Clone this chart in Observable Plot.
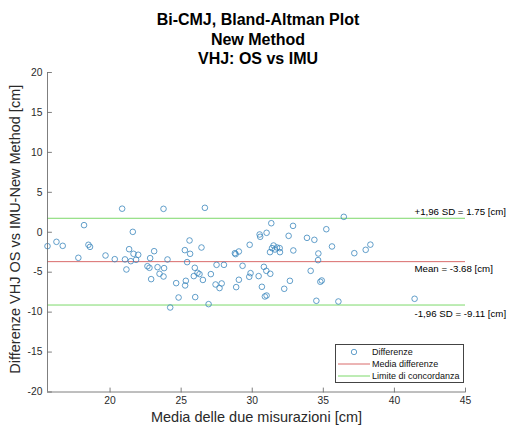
<!DOCTYPE html>
<html>
<head>
<meta charset="utf-8">
<script src="https://cdn.jsdelivr.net/npm/d3@7"></script>
<script src="https://cdn.jsdelivr.net/npm/@observablehq/plot@0.6"></script>
<style>
  body { margin: 0; background: #fff; font-family: "Liberation Sans", Arial, Helvetica, sans-serif; }
  #wrap { position: relative; width: 508px; height: 428px; overflow: hidden; }
  #title { box-sizing: border-box; height: 66px; padding-top: 10px; padding-left: 8px; text-align: center;
           font-weight: bold; font-size: 16px; line-height: 19.5px; color: #000; }
  #legend { position: absolute; left: 335px; top: 344px; width: 129px; height: 39px; box-sizing: border-box;
            border: 1px solid #444; background: #fff; font-size: 9px; color: #111; padding-top: 1px; }
  .row { position: relative; height: 12px; line-height: 12px; }
  .row svg { position: absolute; left: 1px; top: 0; }
  .row span { position: absolute; left: 36px; top: 0; white-space: nowrap; }
</style>
</head>
<body>
<div id="wrap">
  <div id="title"></div>
  <div id="chart"></div>
  <div id="legend"></div>
</div>
<script>
// ---- data ----
const titleLines = ["Bi-CMJ, Bland-Altman Plot", "New Method", "VHJ: OS vs IMU"];
const xLabel = "Media delle due misurazioni [cm]";
const yLabel = "Differenze VHJ OS vs IMU-New Method [cm]";
const xDomain = [15.6, 45];
const yDomain = [-20, 20];
const xTicks = [20, 25, 30, 35, 40, 45];
const yTicks = [-20, -15, -10, -5, 0, 5, 10, 15, 20];

const meanX = [
  15.6, 16.23, 16.67, 18.17, 17.77, 18.48, 18.59, 19.68, 20.33, 20.85,
  21.05, 21.15, 23.76, 26.67, 21.6, 21.34, 21.65, 21.98, 21.46, 21.83,
  23.1, 22.82, 24.04, 22.63, 22.77, 23.34, 23.8, 23.48, 23.76, 22.89,
  24.65, 25.28, 25.33, 24.82, 25.99, 24.23, 25.59, 25.26, 25.63, 26.43,
  25.42, 25.96, 26.15, 26.29, 25.89, 26.53, 31.34, 30.52, 30.56, 31.01,
  29.82, 29.06, 28.78, 28.83, 31.5, 31.39, 31.74, 31.93, 31.25, 31.95,
  31.6, 27.49, 28.01, 29.32, 30.82, 30.99, 31.27, 27.09, 29.88, 29.79,
  29.06, 30.45, 27.42, 27.85, 27.7, 28.87, 30.68, 32.25, 30.89, 31.01,
  26.93, 36.44, 32.87, 32.56, 35.21, 33.85, 34.37, 35.61, 32.89, 34.65,
  34.63, 37.18, 37.98, 38.31, 34.11, 32.65, 34.79, 34.89, 34.51, 36.06,
  41.42
];
const diffY = [
  -1.74, -1.2, -1.7, 0.89, -3.2, -1.57, -1.83, -2.91, -3.37, 2.95,
  -3.4, -4.66, 2.93, 3.06, 0.05, -2.12, -2.7, -2.82, -3.62, -3.45,
  -2.37, -3.24, -3.41, -4.25, -4.45, -4.37, -4.49, -5.2, -5.54, -5.87,
  -6.37, -6.66, -6.08, -8.17, -8.12, -9.42, -1.03, -2.24, -2.7, -1.91,
  -3.74, -4.45, -5.08, -5.24, -5.49, -5.97, 1.13, -0.28, -0.57, -0.07,
  -1.57, -2.41, -2.62, -2.74, -1.66, -1.99, -1.91, -1.99, -2.49, -2.49,
  -2.16, -4.08, -4.08, -4.2, -4.33, -4.83, -5.2, -5.24, -5.12, -5.58,
  -5.95, -5.49, -6.54, -6.41, -6.99, -6.87, -6.83, -7.08, -8.04, -7.92,
  -9.0, 1.93, 0.8, -0.45, 0.38, -0.7, -0.95, -1.78, -2.28, -2.66,
  -3.49, -2.62, -2.2, -1.55, -4.83, -6.08, -6.2, -6.04, -8.58, -8.67,
  -8.33
];

const meanDiff = -3.68;
const upperLoA = 1.75;
const lowerLoA = -9.11;
const upperLabel = "+1,96 SD = 1.75 [cm]";
const meanLabel = "Mean = -3.68 [cm]";
const lowerLabel = "-1,96 SD = -9.11 [cm]";
const legendLabels = ["Differenze", "Media differenze", "Limite di concordanza"];

// ---- styles ----
const FONT = '"Liberation Sans", Arial, Helvetica, sans-serif';
const dotColor = "#3b86bd";
const meanColor = "#d96a6a";
const limitColor = "#7cd96a";
const axisColor = "#707070";
const textColor = "#2a2a2a";

document.getElementById("title").innerHTML = titleLines.map(t => `<div>${t}</div>`).join("");

const points = meanX.map((x, i) => ({x, y: diffY[i]}));
const tickShape = {draw(ctx, l) { ctx.moveTo(0, 0); ctx.lineTo(0, -l); }};

const chart = Plot.plot({
  width: 508,
  height: 362,
  marginLeft: 47,
  marginRight: 43,
  marginTop: 6,
  marginBottom: 36.5,
  style: {fontFamily: FONT, fontSize: "10.3px", color: textColor, background: "white", overflow: "visible"},
  x: {domain: xDomain, label: null},
  y: {domain: yDomain, label: null},
  marks: [
    Plot.ruleY([upperLoA, lowerLoA], {stroke: limitColor, strokeWidth: 1}),
    Plot.ruleY([meanDiff], {stroke: meanColor, strokeWidth: 1}),
    Plot.dot(points, {x: "x", y: "y", r: 2.8, stroke: dotColor, strokeWidth: 0.8, fill: "none"}),
    // axis lines
    Plot.ruleX([xDomain[0]], {stroke: axisColor, strokeWidth: 0.9}),
    Plot.ruleY([yDomain[0]], {stroke: axisColor, strokeWidth: 0.9}),
    // inward ticks
    Plot.vector(yTicks, {x: () => xDomain[0], y: d => d, length: 4, rotate: 90, anchor: "start", shape: tickShape, stroke: axisColor, strokeWidth: 0.9}),
    Plot.vector(xTicks, {x: d => d, y: () => yDomain[0], length: 4, rotate: 0, anchor: "start", shape: tickShape, stroke: axisColor, strokeWidth: 0.9}),
    Plot.axisX({ticks: xTicks, tickSize: 0, tickPadding: 5, tickFormat: d => String(d), label: null, fill: textColor}),
    Plot.axisY({ticks: yTicks, tickSize: 0, tickPadding: 5, tickFormat: d => String(d), label: null, fill: textColor}),
    // axis titles
    Plot.text([xLabel], {frameAnchor: "bottom", dy: 29.5, fontSize: 14.5, fill: textColor}),
    Plot.text([yLabel], {frameAnchor: "left", textAnchor: "middle", rotate: -90, dx: -32, dy: -3, fontSize: 14.5, fill: textColor}),
    // annotations
    Plot.text([upperLabel], {y: () => upperLoA, frameAnchor: "right", dx: -51, dy: -6, textAnchor: "start", fontSize: 9.7, fill: "#000"}),
    Plot.text([meanLabel], {y: () => meanDiff, frameAnchor: "right", dx: -51, dy: 7, textAnchor: "start", fontSize: 9.7, fill: "#000"}),
    Plot.text([lowerLabel], {y: () => lowerLoA, frameAnchor: "right", dx: -51, dy: 9, textAnchor: "start", fontSize: 9.7, fill: "#000"})
  ]
});
document.getElementById("chart").appendChild(chart);

// legend
const symbols = [
  `<svg width="34" height="12"><circle cx="17" cy="6" r="2.7" fill="none" stroke="${dotColor}" stroke-width="0.8"/></svg>`,
  `<svg width="34" height="12"><line x1="1" x2="33" y1="6" y2="6" stroke="${meanColor}" stroke-width="1"/></svg>`,
  `<svg width="34" height="12"><line x1="1" x2="33" y1="6" y2="6" stroke="${limitColor}" stroke-width="1"/></svg>`
];
document.getElementById("legend").innerHTML = legendLabels.map((l, i) =>
  `<div class="row">${symbols[i]}<span>${l}</span></div>`).join("");
</script>
</body>
</html>
